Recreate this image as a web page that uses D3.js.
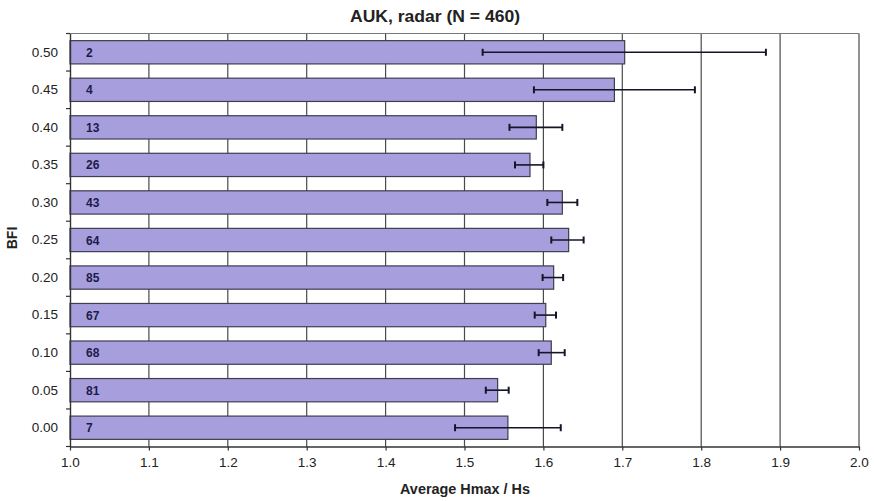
<!DOCTYPE html>
<html>
<head>
<meta charset="utf-8">
<script src="https://cdn.jsdelivr.net/npm/d3@7"></script>
<style>
  html, body { margin: 0; padding: 0; background: #fff; }
  svg { display: block; font-family: "Liberation Sans", Arial, sans-serif; }
</style>
</head>
<body>
<svg id="chart" width="874" height="501"></svg>
<script>
// BFI classes (top to bottom), mean Hmax/Hs, error-bar bounds, and sample counts
const bfi      = ["0.50", "0.45", "0.40", "0.35", "0.30", "0.25", "0.20", "0.15", "0.10", "0.05", "0.00"];
const meanVal  = [1.703, 1.690, 1.591, 1.583, 1.624, 1.632, 1.613, 1.603, 1.610, 1.542, 1.555];
const errLow   = [1.523, 1.588, 1.557, 1.564, 1.605, 1.610, 1.599, 1.589, 1.594, 1.527, 1.488];
const errHigh  = [1.882, 1.792, 1.624, 1.600, 1.643, 1.651, 1.625, 1.616, 1.627, 1.556, 1.622];
const counts   = [2, 4, 13, 26, 43, 64, 85, 67, 68, 81, 7];
const xTicks   = [1.0, 1.1, 1.2, 1.3, 1.4, 1.5, 1.6, 1.7, 1.8, 1.9, 2.0];

const title  = "AUK, radar (N = 460)";
const xTitle = "Average Hmax / Hs";
const yTitle = "BFI";

const rows = bfi.map((b, i) => ({ bfi: b, mean: meanVal[i], lo: errLow[i], hi: errHigh[i], n: counts[i] }));

const svg = d3.select("#chart");
const margin = { top: 33.5, right: 15, bottom: 54.5, left: 70 };
const W = 874, H = 501;
const iw = W - margin.left - margin.right;
const ih = H - margin.top - margin.bottom;

const x = d3.scaleLinear().domain([1.0, 2.0]).range([0, iw]);
const y = d3.scaleBand().domain(bfi).range([0, ih]).paddingInner(0.38).paddingOuter(0.19);

const g = svg.append("g").attr("transform", `translate(${margin.left},${margin.top})`);

// vertical gridlines
g.append("g").selectAll("line").data(xTicks.slice(1)).join("line")
  .attr("x1", d => x(d)).attr("x2", d => x(d))
  .attr("y1", 0).attr("y2", ih)
  .attr("stroke", "#4a4a4a").attr("stroke-width", 1.2);

// top border
g.append("line").attr("x1", 0).attr("x2", iw).attr("y1", 0).attr("y2", 0)
  .attr("stroke", "#777").attr("stroke-width", 1.2);

// bars
g.append("g").selectAll("rect").data(rows).join("rect")
  .attr("x", x(1.0))
  .attr("y", d => y(d.bfi))
  .attr("width", d => x(d.mean) - x(1.0))
  .attr("height", y.bandwidth())
  .attr("fill", "#a79ede")
  .attr("stroke", "#3e3e50")
  .attr("stroke-width", 1.2);

// error bars
const eb = g.append("g").selectAll("g").data(rows).join("g")
  .attr("transform", d => `translate(0,${y(d.bfi) + y.bandwidth() / 2})`);
eb.append("line")
  .attr("x1", d => x(d.lo)).attr("x2", d => x(d.hi))
  .attr("stroke", "#15152a").attr("stroke-width", 1.6);
eb.append("line")
  .attr("x1", d => x(d.lo)).attr("x2", d => x(d.lo))
  .attr("y1", -3.5).attr("y2", 3.5)
  .attr("stroke", "#15152a").attr("stroke-width", 2);
eb.append("line")
  .attr("x1", d => x(d.hi)).attr("x2", d => x(d.hi))
  .attr("y1", -3.5).attr("y2", 3.5)
  .attr("stroke", "#15152a").attr("stroke-width", 2);

// sample counts inside bars
g.append("g").selectAll("text").data(rows).join("text")
  .attr("x", 16)
  .attr("y", d => y(d.bfi) + y.bandwidth() / 2)
  .attr("dy", "0.38em")
  .attr("font-size", 12)
  .attr("font-weight", "bold")
  .attr("fill", "#1c1c48")
  .text(d => d.n);

// x axis
const xAxis = g.append("g").attr("transform", `translate(0,${ih})`)
  .call(d3.axisBottom(x).tickValues(xTicks).tickFormat(d3.format(".1f")).tickSize(4).tickSizeOuter(0));
xAxis.select(".domain").attr("stroke", "#333").attr("stroke-width", 1.4);
xAxis.selectAll(".tick line").attr("stroke", "#333").attr("stroke-width", 1.2);
xAxis.selectAll("text").attr("font-size", 13.5).attr("fill", "#222").attr("dy", "1.0em")
  .attr("font-family", "'Liberation Sans', Arial, sans-serif");

// y axis: category labels, tick marks at band boundaries
const yAxis = g.append("g")
  .call(d3.axisLeft(y).tickSize(0).tickPadding(12));
yAxis.select(".domain").attr("stroke", "#333").attr("stroke-width", 1.4);
yAxis.selectAll("text").attr("font-size", 13.5).attr("fill", "#222")
  .attr("font-family", "'Liberation Sans', Arial, sans-serif");

const step = y.step();
const bounds = d3.range(bfi.length + 1).map(i => i === 0 ? 0 : (i === bfi.length ? ih : y(bfi[i]) - (step - y.bandwidth()) / 2));
g.append("g").selectAll("line").data(bounds).join("line")
  .attr("x1", -4).attr("x2", 0)
  .attr("y1", d => d).attr("y2", d => d)
  .attr("stroke", "#333").attr("stroke-width", 1.2);

// titles
svg.append("text")
  .attr("x", 435).attr("y", 22)
  .attr("text-anchor", "middle")
  .attr("font-size", 17).attr("font-weight", "bold").attr("fill", "#222")
  .attr("textLength", 170).attr("lengthAdjust", "spacingAndGlyphs")
  .text(title);

svg.append("text")
  .attr("x", 465).attr("y", 494)
  .attr("text-anchor", "middle")
  .attr("font-size", 14).attr("font-weight", "bold").attr("fill", "#222")
  .attr("textLength", 130).attr("lengthAdjust", "spacingAndGlyphs")
  .text(xTitle);

svg.append("text")
  .attr("transform", "translate(17,238) rotate(-90)")
  .attr("text-anchor", "middle")
  .attr("font-size", 14).attr("font-weight", "bold").attr("fill", "#222")
  .text(yTitle);
</script>
</body>
</html>
